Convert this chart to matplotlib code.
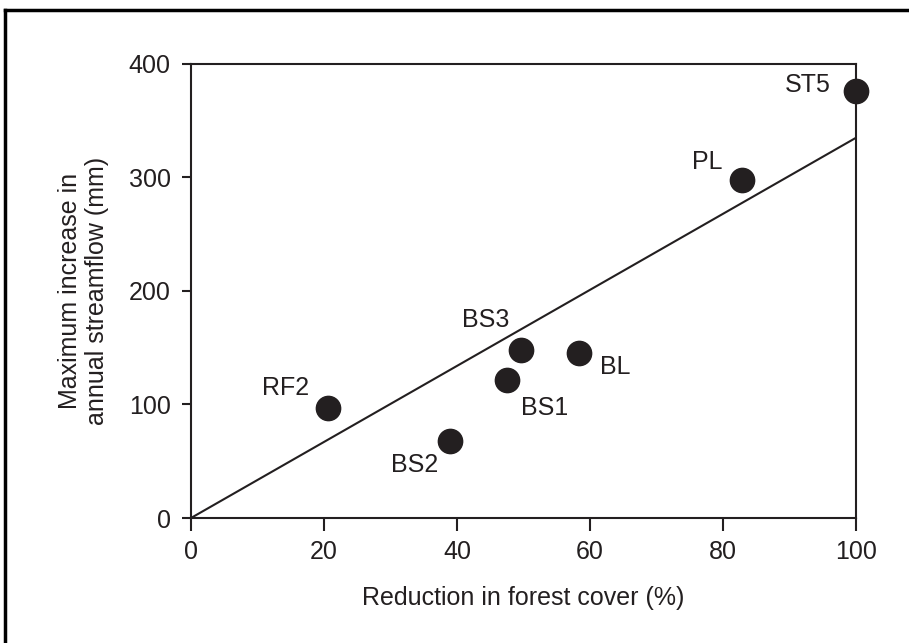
import numpy as np
import matplotlib.pyplot as plt
from matplotlib.lines import Line2D

plt.rcParams['font.family'] = ['Liberation Sans', 'DejaVu Sans']

# catchment data
sites = ['ST5', 'PL', 'BS3', 'BL', 'BS1', 'RF2', 'BS2']
reduction = [100, 82.9, 49.7, 58.3, 47.5, 20.6, 38.9]       # % forest cover removed
increase = [376, 298, 148, 145, 121.5, 96.5, 67.5]          # mm/yr max streamflow increase
# fitted line through origin
fit_x = [0, 100]
fit_y = [0, 335]

# label offsets (points) relative to each dot
offsets = [(-34.5, 4.5), (-25, 12.5), (-26, 21.5), (26, -10), (27.5, -20), (-30.5, 15), (-25.5, -17)]

ink = '#231f20'
fs = 18
fig = plt.figure(figsize=(9.09, 6.43), dpi=100)
ax = fig.add_axes([0.2101, 0.1944, 0.7316, 0.7061])

ax.plot(fit_x, fit_y, color=ink, lw=1.5, solid_capstyle='butt')
ax.plot(reduction, increase, 'o', color=ink, ms=17.5, clip_on=False, zorder=3)
for name, x, y, off in zip(sites, reduction, increase, offsets):
    ax.annotate(name, (x, y), xytext=off, textcoords='offset points',
                ha='center', va='center', fontsize=fs, color=ink)

ax.set_xlim(0, 100)
ax.set_ylim(0, 400)
ax.set_xticks(np.arange(0, 101, 20))
ax.set_yticks(np.arange(0, 401, 100))
for s in ax.spines.values():
    s.set_linewidth(1.5)
    s.set_color(ink)
ax.tick_params(axis='x', direction='out', length=9.5, width=1.5, pad=6, labelsize=fs, colors=ink)
ax.tick_params(axis='y', direction='out', length=6.5, width=1.5, pad=8, labelsize=fs, colors=ink)
ax.set_xlabel('Reduction in forest cover (%)', fontsize=fs, color=ink, labelpad=16)
ax.set_ylabel('Maximum increase in\nannual streamflow (mm)', fontsize=fs, color=ink, labelpad=14)

# frame lines around the panel (left and top visible)
fig.add_artist(Line2D([0.0055, 0.0055], [0, 0.985], transform=fig.transFigure, color='black', lw=2.5))
fig.add_artist(Line2D([0.0055, 1], [0.985, 0.985], transform=fig.transFigure, color='black', lw=2.5))

fig.savefig('out.png', dpi=100)
